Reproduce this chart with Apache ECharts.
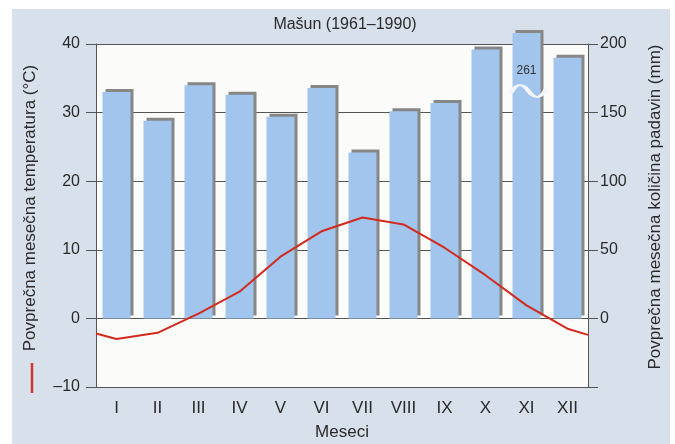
<!DOCTYPE html>
<html>
<head>
<meta charset="utf-8">
<script src="https://cdn.jsdelivr.net/npm/echarts@6/dist/echarts.min.js"></script>
<style>
  html, body { margin: 0; padding: 0; background: #ffffff; }
  #wrap { position: relative; width: 675px; height: 444px; }
  #chart { position: absolute; left: 0; top: 0; width: 675px; height: 444px; }
  .strip { position: absolute; background: #ffffff; z-index: 5; }
</style>
</head>
<body>
<div id="wrap">
  <div id="chart"></div>
  <div class="strip" style="left:0;top:0;width:675px;height:9px;"></div>
  <div class="strip" style="left:0;top:0;width:12px;height:444px;"></div>
  <div class="strip" style="left:670px;top:0;width:5px;height:444px;"></div>
</div>
<script>
// ---- data ----
const months = ['I', 'II', 'III', 'IV', 'V', 'VI', 'VII', 'VIII', 'IX', 'X', 'XI', 'XII'];
const precipitation = [165, 144, 170, 163, 147, 168, 121, 151, 157, 196, 261, 190]; // mm
const temperature = [-3.0, -2.1, 0.7, 3.9, 9.0, 12.7, 14.7, 13.7, 10.3, 6.3, 1.9, -1.5]; // °C
const tempStartEdge = -2.2;   // line value at left plot edge
const tempEndEdge = -2.4;     // line value at right plot edge
const tempTicks = [-10, 0, 10, 20, 30, 40];
const precipTicks = [0, 50, 100, 150, 200];
const precipBreakShown = 208; // drawn height of broken (off-scale) bar

const FONT = "'Liberation Sans', Arial, sans-serif";
const TXT = '#2a2a2a';
const GRID = '#555555';
const precipMax = precipTicks[precipTicks.length - 1];

const barData = precipitation.map(v => {
  if (v > precipMax) {
    return {
      value: precipBreakShown,
      label: {
        show: true, position: 'insideTop', distance: 0, offset: [0, 32],
        formatter: String(v), fontSize: 12, color: '#333', fontFamily: FONT
      }
    };
  }
  return v;
});
const breakData = [];
precipitation.forEach((v, i) => { if (v > precipMax) breakData.push([i, precipBreakShown]); });

const lineData = [[0, tempStartEdge]]
  .concat(temperature.map((t, i) => [i + 0.5, t]))
  .concat([[months.length, tempEndEdge]]);

const chart = echarts.init(document.getElementById('chart'));
chart.setOption({
  animation: false,
  backgroundColor: '#d8e0ec',
  title: {
    text: 'Mašun (1961–1990)',
    left: 340, top: 12, textAlign: 'center',
    textStyle: { fontFamily: FONT, fontSize: 16, fontWeight: 'normal', color: TXT }
  },
  grid: {
    left: 96, right: 87, top: 44, bottom: 57,
    outerBoundsMode: 'none', containLabel: false,
    show: true, backgroundColor: '#fbfbfa', borderWidth: 0
  },
  xAxis: [
    {
      type: 'category', data: months, boundaryGap: true,
      axisLine: { show: false }, axisTick: { show: false },
      axisLabel: { fontFamily: FONT, fontSize: 17, color: TXT, margin: 13 },
      name: 'Meseci', nameLocation: 'middle', nameGap: 37,
      nameTextStyle: { fontFamily: FONT, fontSize: 17, color: TXT }
    },
    { type: 'value', min: 0, max: months.length, show: false }
  ],
  yAxis: [
    {
      type: 'value', position: 'left',
      min: tempTicks[0], max: tempTicks[tempTicks.length - 1], interval: 10,
      axisLine: { show: true, lineStyle: { color: GRID, width: 1 } },
      axisTick: { show: true, length: 10, lineStyle: { color: GRID, width: 1 } },
      splitLine: { show: true, lineStyle: { color: GRID, width: 1 } },
      axisLabel: {
        fontFamily: FONT, fontSize: 16, color: TXT, margin: 16,
        formatter: v => String(v).replace('-', '–')
      }
    },
    {
      type: 'value', position: 'right',
      min: -50, max: precipMax, interval: 50,
      axisLine: { show: true, lineStyle: { color: GRID, width: 1 } },
      axisTick: { show: true, length: 10, lineStyle: { color: GRID, width: 1 } },
      splitLine: { show: false },
      axisLabel: {
        fontFamily: FONT, fontSize: 16, color: TXT, margin: 12,
        formatter: v => (precipTicks.indexOf(v) >= 0 ? String(v) : '')
      }
    }
  ],
  graphic: [
    {
      type: 'text', x: 30, y: 208, rotation: Math.PI / 2,
      style: {
        text: 'Povprečna mesečna temperatura (°C)', font: '17px ' + FONT,
        fill: TXT, align: 'center', verticalAlign: 'middle'
      }
    },
    {
      type: 'text', x: 655, y: 207, rotation: Math.PI / 2,
      style: {
        text: 'Povprečna mesečna količina padavin (mm)', font: '17px ' + FONT,
        fill: TXT, align: 'center', verticalAlign: 'middle'
      }
    },
    {
      type: 'line', shape: { x1: 32, y1: 363, x2: 32, y2: 393 },
      style: { stroke: '#d2352a', lineWidth: 2.5 }
    }
  ],
  series: [
    {
      type: 'bar', xAxisIndex: 0, yAxisIndex: 1,
      data: barData, barWidth: 28, clip: false, z: 2,
      itemStyle: {
        color: '#a1c5ed',
        shadowColor: '#878787', shadowOffsetX: 3, shadowOffsetY: -3, shadowBlur: 0
      }
    },
    {
      type: 'scatter', xAxisIndex: 0, yAxisIndex: 1,
      data: breakData, clip: false, z: 4, silent: true,
      symbol: 'path://M0,8 C6,-1 12,-1 18,6 C24,13 30,13 36,4',
      symbolSize: [36, 12], symbolOffset: [2, 58],
      itemStyle: { color: 'rgba(0,0,0,0)', borderColor: '#f3f6fa', borderWidth: 3, opacity: 1 }
    },
    {
      type: 'line', xAxisIndex: 1, yAxisIndex: 0,
      data: lineData, symbol: 'none', z: 5,
      lineStyle: { color: '#d22a1e', width: 2 }
    }
  ]
});
</script>
</body>
</html>
